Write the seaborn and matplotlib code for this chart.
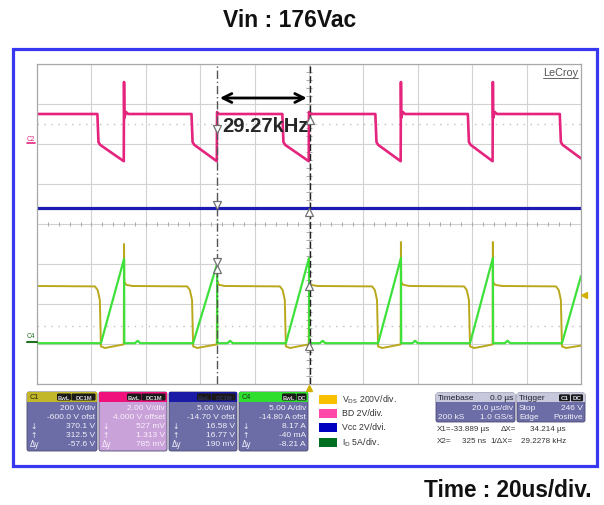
import numpy as np
import pandas as pd
import seaborn as sns
import matplotlib
matplotlib.use("Agg")
import matplotlib.pyplot as plt
from matplotlib.patches import Rectangle, FancyBboxPatch

# ---------------- data (time in us, amplitude in divisions from screen centre) -------------
bd_t = [-100, -77.8, -77.4, -76.8, -68.1, -68.0, -67.9, -67.3, -66.5,
        -43.2, -42.8, -42.2, -33.9, -33.8, -33.2,
        -9.8, -9.4, -8.8, -0.1, 0.0, 0.6,
        24.4, 24.8, 25.4, 33.7, 33.8, 33.9, 34.5, 35.3,
        58.4, 58.8, 59.4, 67.5, 67.6, 67.7, 68.3, 69.1,
        92.2, 92.6, 93.2, 100]
bd_v = [2.75, 2.75, 2.05, 1.98, 1.57, 3.55, 2.65, 2.80, 2.75,
        2.75, 2.05, 1.98, 1.57, 2.80, 2.75,
        2.75, 2.05, 1.98, 1.57, 2.80, 2.75,
        2.75, 2.05, 1.98, 1.57, 3.55, 2.65, 2.80, 2.75,
        2.75, 2.05, 1.98, 1.57, 3.55, 2.65, 2.80, 2.75,
        2.75, 2.05, 1.98, 1.64]

vcc_t = [-100, 100]
vcc_v = [0.40, 0.40]

vds_t = [-100, -78.7, -77.7, -76.9, -76.5, -75.0, -72.0, -68.1, -68.0, -67.9, -67.2, -65.0,
         -44.8, -43.8, -43.0, -42.6, -41.1, -38.0, -33.9, -33.8, -33.1, -31.0,
         -10.7, -9.7, -8.9, -8.5, -7.0, -4.0, -0.1, 0.0, 0.7, 3.0,
         23.2, 24.2, 25.0, 25.4, 26.9, 30.0, 33.7, 33.8, 33.9, 34.6, 37.0,
         57.0, 58.0, 58.8, 59.2, 60.7, 64.0, 67.5, 67.6, 67.7, 68.4, 71.0,
         90.8, 91.8, 92.6, 93.0, 94.5, 100]
vds_v = [-1.55, -1.56, -1.65, -1.90, -3.06, -3.10, -3.06, -3.01, -0.50, -1.45, -1.52, -1.55,
         -1.56, -1.65, -1.90, -3.06, -3.10, -3.06, -3.01, -1.42, -1.52, -1.55,
         -1.56, -1.65, -1.90, -3.06, -3.10, -3.06, -3.01, -1.45, -1.52, -1.55,
         -1.56, -1.65, -1.90, -3.06, -3.10, -3.06, -3.01, -0.45, -1.45, -1.52, -1.55,
         -1.56, -1.65, -1.90, -3.06, -3.10, -3.06, -3.01, -0.45, -1.45, -1.52, -1.55,
         -1.56, -1.65, -1.90, -3.06, -3.10, -3.04]

id_t = [-100, -76.5, -68.0, -67.9, -64.0, -63.0, -62.0,
        -42.6, -33.8, -33.7, -30.0, -29.0, -28.0,
        -8.5, 0.0, 0.1, 4.0, 5.0, 6.0,
        25.4, 33.8, 33.9, 38.0, 39.0, 40.0,
        59.2, 67.6, 67.7, 72.0, 73.0, 74.0,
        93.0, 100]
id_v = [-2.98, -2.98, -0.875, -2.98, -2.98, -2.92, -2.98,
        -2.98, -1.00, -2.98, -2.98, -2.92, -2.98,
        -2.98, -0.85, -2.98, -2.98, -2.92, -2.98,
        -2.98, -0.85, -2.98, -2.98, -2.92, -2.98,
        -2.98, -0.85, -2.98, -2.98, -2.92, -2.98,
        -2.98, -1.30]

ch_names = ["C1", "C2", "C3", "C4"]
ch_scale = ["200 V/div", "2.00 V/div", "5.00 V/div", "5.00 A/div"]
ch_offset = ["-600.0 V ofst", "4.000 V offset", "-14.70 V ofst", "-14.80 A ofst"]
ch_down = ["370.1 V", "527 mV", "16.58 V", "8.17 A"]
ch_up = ["312.5 V", "1.313 V", "16.77 V", "-40 mA"]
ch_dy = ["-57.6 V", "785 mV", "190 mV", "-8.21 A"]
ch_badges = [["BwL", "DC1M"], ["BwL", "DC1M"], ["BwL", "DC1M"], ["BwL", "DC"]]

leg_labels = [r"V$_{\rm DS}$ 200V/div.", "BD 2V/div.", "Vcc 2V/dvi.", r"I$_{\rm D}$ 5A/div."]
leg_colors = ["#f8c000", "#ff48a8", "#0000c0", "#007020"]

# ---------------- figure ----------------
sns.set_theme(style="white")
plt.rcParams["font.family"] = ["Liberation Sans", "DejaVu Sans"]
NARROW = ["Liberation Sans Narrow", "Liberation Sans", "DejaVu Sans"]

W, H = 604, 506
fig = plt.figure(figsize=(W / 100, H / 100), dpi=100)
fig.patch.set_facecolor("white")

ov = fig.add_axes([0, 0, 1, 1])
ov.set_xlim(0, W)
ov.set_ylim(H, 0)
ov.axis("off")

ax = fig.add_axes([37 / W, 1 - 385 / H, 544 / W, 320 / H])
ax.set_xlim(-100, 100)
ax.set_ylim(-4, 4)
ax.set_xticks(np.arange(-100, 101, 20))
ax.set_yticks(np.arange(-4, 5, 1))
ax.grid(True, color="#d2d2d2", lw=0.8)
ax.tick_params(length=0, labelbottom=False, labelleft=False)
for s in ax.spines.values():
    s.set_color("#a8a8a8")
    s.set_linewidth(0.9)

# dotted reference rows
for yy in [2.5, -2.55]:
    ax.axhline(yy, color="#c0c0c0", lw=1.0, ls=(0, (1, 4)), zorder=1)
# centre graticule ticks
ax.vlines(np.arange(-100, 101, 4), -0.06, 0.06, color="#a8a8a8", lw=0.7)
ax.hlines(np.arange(-4, 4.01, 0.2), -1.0, 1.0, color="#a8a8a8", lw=0.7)

# traces
traces = [(vcc_t, vcc_v, "#1c1cb4", 2.3),
          (vds_t, vds_v, "#b9a81c", 1.4),
          (id_t, id_v, "#3ee03a", 1.6),
          (bd_t, bd_v, "#e5247d", 1.9)]
for t, v, c, lw in traces:
    sns.lineplot(x=t, y=v, ax=ax, color=c, lw=lw, sort=False, estimator=None)
ax.set_xlabel("")
ax.set_ylabel("")

# cursors
ax.axvline(-33.8, color="#555555", lw=1.0, ls=(0, (6, 2, 1, 2)), zorder=5)
ax.axvline(0.2, color="#222222", lw=1.0, ls=(0, (5, 2)), zorder=5)
ax.annotate("", xy=(-33.8, 3.15), xytext=(0.2, 3.15),
            arrowprops=dict(arrowstyle="<->", lw=2.0, color="black", mutation_scale=16), zorder=6)
ax.text(-32.0, 2.47, "29.27kHz", fontsize=14.5, fontweight="bold", va="center", ha="left", zorder=6)

ax.set_zorder(2)
ax.patch.set_alpha(0)
ov.set_zorder(3)

# cursor markers (hollow arrows)
for (mx, my, m) in [(217, 130, "v"), (217, 206, "v"), (217, 263, "v"), (217, 270, "^"),
                    (310, 121, "^"), (309, 213, "^"), (309, 287, "^"), (309, 347, "^")]:
    ov.plot([mx], [my], marker=m, ms=5.5, mfc="white", mec="#707070", mew=0.9, ls="none")

# LeCroy
ov.text(578, 73, "LeCroy", fontsize=7.8, color="#555555", ha="right", va="center")
ov.plot([543, 578], [79, 79], color="#666666", lw=0.7)

# channel markers
ov.text(31, 139, "C2", fontsize=4.8, color="#e5247d", ha="center", va="center")
ov.plot([27, 35], [144, 144], color="#e5247d", lw=1.2)
ov.text(31, 337, "C4", fontsize=4.8, color="#207020", ha="center", va="center")
ov.plot([27, 37], [343, 343], color="#207020", lw=1.5)
ov.plot([584], [296], marker="<", color="#d0b000", ms=4.5)
ov.plot([309], [388.5], marker="^", color="#d0b000", ms=4.5)

# frame and titles
ov.add_patch(Rectangle((13, 50), 584, 417, fc="none", ec="#3838f0", lw=2.3))
ov.text(290, 20, "Vin : 176Vac", fontsize=16.5, fontweight="bold", ha="center", va="center", color="#111111")
ov.text(508, 491, "Time : 20us/div.", fontsize=16.3, fontweight="bold", ha="center", va="center", color="#111111")

# ---------------- channel boxes ----------------
box_x = [(27, 97), (99, 167), (169, 237), (239, 308)]
hdr_col = ["#c2b72a", "#f0127c", "#1a1aa6", "#30de30"]
body_col = ["#6c6ca6", "#c8a2d8", "#6c6ca6", "#6c6ca6"]
lbl_col = ["#2a2a10", "#f0127c", "#1a1aa6", "#1a3a1a"]
txt_col = ["#f2f2fa", "#faf0fc", "#f2f2fa", "#f2f2fa"]
row_y = [408.5, 417.5, 426.5, 435.5, 444.5]
for i in range(4):
    x0, x1 = box_x[i]
    ov.add_patch(FancyBboxPatch((x0, 393), x1 - x0, 59, boxstyle="round,pad=0,rounding_size=2",
                                fc=body_col[i], ec="#4a4a70", lw=0.6))
    ov.add_patch(Rectangle((x0 + 0.3, 393.3), x1 - x0 - 0.6, 9.5, fc=hdr_col[i], ec="none"))
    ov.text(x0 + 3, 398, ch_names[i], fontsize=5.3, color=lbl_col[i], va="center", ha="left", family=NARROW)
    b1, b2 = ch_badges[i]
    w2 = 24 if len(b2) > 2 else 10
    bx2 = x1 - 1.5 - w2
    bx1 = bx2 - 14.5
    for bx, bw, bt in [(bx1, 14, b1), (bx2, w2, b2)]:
        ov.add_patch(FancyBboxPatch((bx, 394.5), bw, 7, boxstyle="round,pad=0,rounding_size=1.2",
                                    fc="#1a1a1a", ec="none"))
        ov.text(bx + bw / 2, 398.1, bt, fontsize=4.2, color="#d8d8d8" if i != 2 else "#303060",
                ha="center", va="center", family=NARROW, fontweight="bold")
    vals = [ch_scale[i], ch_offset[i], ch_down[i], ch_up[i], ch_dy[i]]
    syms = ["", "", "↓", "↑", "Δy"]
    for r in range(5):
        ov.text(x1 - 2, row_y[r], vals[r], fontsize=6, color=txt_col[i], ha="right", va="center", family=NARROW)
        if syms[r]:
            ov.text(x0 + 3, row_y[r], syms[r], fontsize=5.5, color=txt_col[i], ha="left", va="center",
                    family=["DejaVu Sans"])

# ---------------- legend ----------------
leg_y = [400, 414, 428, 443]
for lab, col, yy in zip(leg_labels, leg_colors, leg_y):
    ov.add_patch(Rectangle((319, yy - 4.5), 18, 9, fc=col, ec="none"))
    ov.text(342, yy, lab, fontsize=6.3, color="#333333", ha="left", va="center")

# ---------------- timebase / trigger ----------------
for (x0, x1) in [(436, 515), (517, 585)]:
    ov.add_patch(FancyBboxPatch((x0, 394), x1 - x0, 29, boxstyle="round,pad=0,rounding_size=2",
                                fc="#6c6ca6", ec="#4a4a70", lw=0.6))
    ov.add_patch(Rectangle((x0 + 0.3, 394.3), x1 - x0 - 0.6, 9, fc="#c8c8dc", ec="none"))
tb_kw = dict(fontsize=6, va="center", family=NARROW)
ov.text(438, 398.8, "Timebase", color="#202030", ha="left", **tb_kw)
ov.text(513, 398.8, "0.0 µs", color="#202030", ha="right", **tb_kw)
ov.text(513, 409, "20.0 µs/div", color="#f2f2fa", ha="right", **tb_kw)
ov.text(438, 418, "200 kS", color="#f2f2fa", ha="left", **tb_kw)
ov.text(513, 418, "1.0 GS/s", color="#f2f2fa", ha="right", **tb_kw)
ov.text(519, 398.8, "Trigger", color="#202030", ha="left", **tb_kw)
for bx, bw, bt in [(559, 11, "C1"), (571, 12, "DC")]:
    ov.add_patch(FancyBboxPatch((bx, 395.3), bw, 7, boxstyle="round,pad=0,rounding_size=1.2", fc="#1a1a1a", ec="none"))
    ov.text(bx + bw / 2, 398.8, bt, fontsize=4.5, color="#d8d8e8", ha="center", va="center", family=NARROW, fontweight="bold")
ov.text(519, 409, "Stop", color="#f2f2fa", ha="left", **tb_kw)
ov.text(583, 409, "246 V", color="#f2f2fa", ha="right", **tb_kw)
ov.text(519, 418, "Edge", color="#f2f2fa", ha="left", **tb_kw)
ov.text(583, 418, "Positive", color="#f2f2fa", ha="right", **tb_kw)

cur_kw = dict(fontsize=5.8, va="center", color="#333333")
ov.text(437, 430, "X1=", ha="left", **cur_kw)
ov.text(489, 430, "-33.889 µs", ha="right", **cur_kw)
ov.text(501, 430, "ΔX=", ha="left", **cur_kw)
ov.text(566, 430, "34.214 µs", ha="right", **cur_kw)
ov.text(437, 442, "X2=", ha="left", **cur_kw)
ov.text(486, 442, "325 ns", ha="right", **cur_kw)
ov.text(490, 442, "1/ΔX=", ha="left", **cur_kw)
ov.text(566, 442, "29.2278 kHz", ha="right", **cur_kw)

fig.savefig("out.png", dpi=100)
